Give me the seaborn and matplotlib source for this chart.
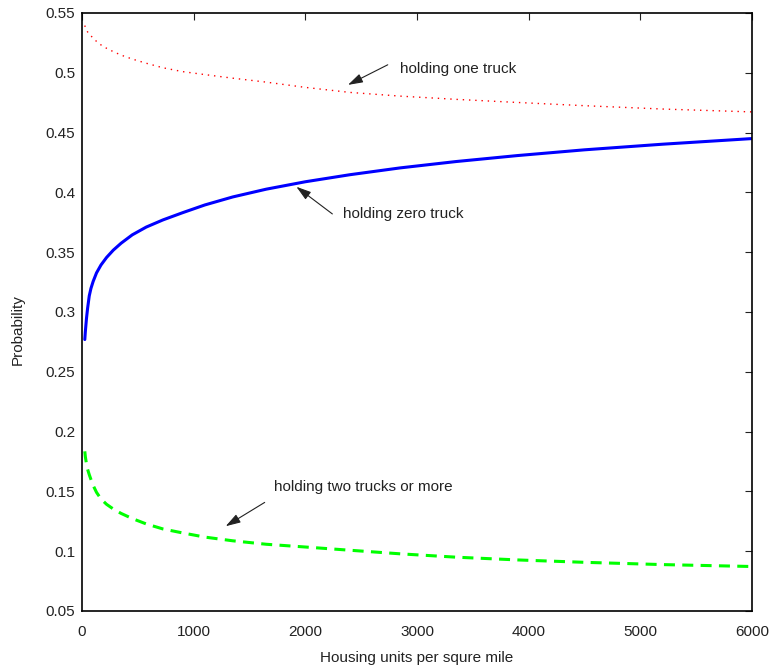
import numpy as np
import pandas as pd
import matplotlib
matplotlib.use('Agg')
import matplotlib.pyplot as plt
from matplotlib.ticker import FuncFormatter, MultipleLocator
import seaborn as sns

# Values
density = [25, 30, 40, 50, 65, 80, 100, 130, 170, 220, 280, 350, 450, 575, 725,
           900, 1100, 1350, 1650, 2000, 2400, 2850, 3350, 3900, 4500, 5200, 6000]
p_zero = [0.277, 0.2837, 0.2945, 0.303, 0.3135, 0.3197, 0.3256, 0.3327, 0.3393, 0.3456,
          0.3517, 0.3575, 0.3645, 0.371, 0.377, 0.383, 0.3895, 0.3962, 0.4027, 0.4089,
          0.4148, 0.4205, 0.4258, 0.4308, 0.4356, 0.4403, 0.445]
p_one = [0.5395, 0.538, 0.5358, 0.5342, 0.5322, 0.5308, 0.5292, 0.5262, 0.5233, 0.5205,
         0.5177, 0.5148, 0.5115, 0.508, 0.5042, 0.501, 0.4985, 0.4955, 0.4922, 0.4878,
         0.4836, 0.4805, 0.4778, 0.4752, 0.4725, 0.4697, 0.4673]
p_two = [0.1835, 0.179, 0.173, 0.1685, 0.164, 0.160, 0.155, 0.1492, 0.1437, 0.1392,
         0.1353, 0.1316, 0.1273, 0.1228, 0.1186, 0.1153, 0.1118, 0.1087, 0.1058, 0.1035,
         0.1008, 0.0978, 0.0950, 0.0927, 0.0907, 0.0888, 0.0872]

df = pd.DataFrame({'density': density, 'zero': p_zero, 'one': p_one, 'two': p_two})

sns.set_style('white')
plt.rcParams['font.family'] = ['Liberation Sans', 'DejaVu Sans']

fig = plt.figure(figsize=(7.71, 6.69), dpi=100)
ax = fig.add_axes([82 / 771, 58 / 669, 670 / 771, 598 / 669])

sns.lineplot(data=df, x='density', y='one', ax=ax, color=(1, 0, 0),
             linestyle=':', linewidth=1.0)
sns.lineplot(data=df, x='density', y='zero', ax=ax, color=(0, 0, 1),
             linewidth=2.2)
sns.lineplot(data=df, x='density', y='two', ax=ax, color=(0, 1, 0),
             linestyle='--', linewidth=2.2)
ax.lines[0].set_dashes([1, 3.5])
ax.lines[2].set_dashes([3.6, 2.4])

ax.set_xlim(0, 6000)
ax.set_ylim(0.05, 0.55)
ax.xaxis.set_major_locator(MultipleLocator(1000))
ax.yaxis.set_major_locator(MultipleLocator(0.05))
ax.yaxis.set_major_formatter(FuncFormatter(lambda v, p: '%g' % round(v, 2)))
ax.tick_params(direction='in', length=5, width=0.8, top=True, right=True,
               labelsize=11, colors='#222222')
ax.tick_params(axis='x', pad=10)
ax.tick_params(axis='y', pad=5)
for s in ax.spines.values():
    s.set_color('black')
    s.set_linewidth(1.2)

ax.set_xlabel('Housing units per squre mile', fontsize=11, color='#222222', labelpad=9)
ax.set_ylabel('Probability', fontsize=11, color='#222222')
ax.yaxis.set_label_coords(-0.086, 0.47)

arrow = dict(arrowstyle='-|>,head_length=0.9,head_width=0.28', color='#222222',
             lw=0.8, shrinkA=0, shrinkB=0)
ax.annotate('holding one truck', xy=(2382, 0.4899), xytext=(2845, 0.5028),
            fontsize=11, color='#222222', va='center', ha='left')
ax.annotate('', xy=(2382, 0.4899), xytext=(2738, 0.5067), arrowprops=arrow)
ax.annotate('holding zero truck', xy=(1920, 0.4047), xytext=(2337, 0.382),
            fontsize=11, color='#222222', va='center', ha='left')
ax.annotate('', xy=(1920, 0.4047), xytext=(2242, 0.382), arrowprops=arrow)
ax.annotate('holding two trucks or more', xy=(1287, 0.1209), xytext=(1717, 0.1533),
            fontsize=11, color='#222222', va='center', ha='left')
ax.annotate('', xy=(1287, 0.1209), xytext=(1636, 0.1408), arrowprops=arrow)

fig.savefig('out.png', dpi=100)
